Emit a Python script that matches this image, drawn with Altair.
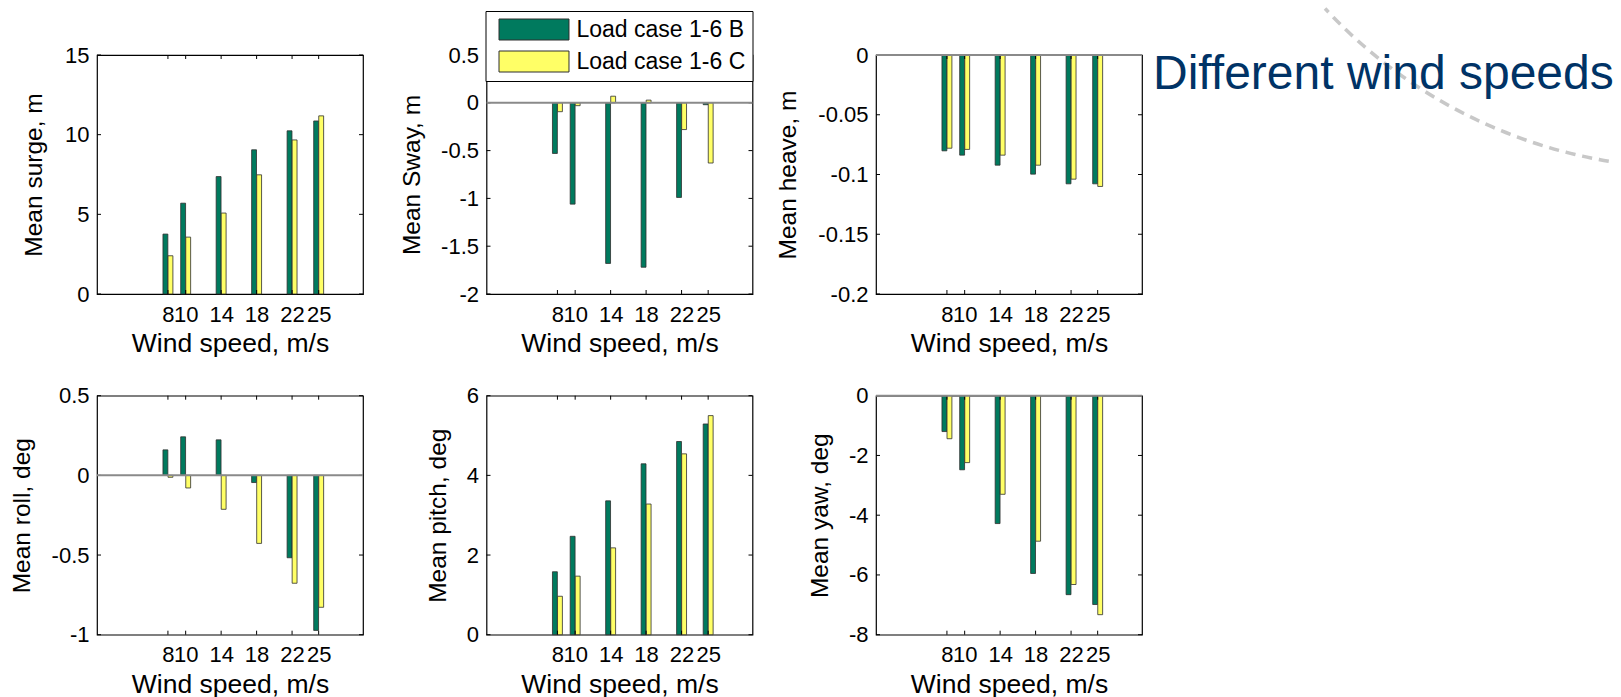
import altair as alt
import pandas as pd

# ---------------- data ----------------
speeds = [8, 10, 14, 18, 22, 25]
series_names = ["Load case 1-6 B", "Load case 1-6 C"]

surge_b = [3.76, 5.70, 7.37, 9.05, 10.24, 10.86]
surge_c = [2.40, 3.57, 5.08, 7.48, 9.67, 11.18]
sway_b = [-0.53, -1.06, -1.68, -1.72, -0.99, -0.02]
sway_c = [-0.093, -0.03, 0.069, 0.028, -0.28, -0.63]
heave_b = [-0.0802, -0.0838, -0.0922, -0.0997, -0.1078, -0.1078]
heave_c = [-0.0780, -0.0790, -0.0838, -0.0922, -0.1039, -0.1100]
roll_b = [0.160, 0.242, 0.223, -0.045, -0.517, -0.973]
roll_c = [-0.012, -0.079, -0.213, -0.427, -0.677, -0.828]
pitch_b = [1.58, 2.47, 3.36, 4.29, 4.85, 5.29]
pitch_c = [0.965, 1.47, 2.18, 3.28, 4.54, 5.50]
yaw_b = [-1.20, -2.48, -4.28, -5.95, -6.66, -6.99]
yaw_c = [-1.44, -2.24, -3.30, -4.87, -6.32, -7.33]

surge_ticks = [0, 5, 10, 15]
sway_ticks = [-2, -1.5, -1, -0.5, 0, 0.5]
heave_ticks = [-0.2, -0.15, -0.1, -0.05, 0]
roll_ticks = [-1, -0.5, 0, 0.5]
pitch_ticks = [0, 2, 4, 6]
yaw_ticks = [-8, -6, -4, -2, 0]
x_domain = [0, 30]

x_title = "Wind speed, m/s"
slide_title = "Different wind speeds"

# ---------------- style ----------------
W, H = 266, 239
GREEN, YELLOW = "#007a5e", "#ffff66"
EDGE = "#2e2e2e"
FONT = "Liberation Sans"
TICK = 4


def panel(b_vals, c_vals, ticks, ytitle, title_x, zero_line=False, legend=None, extras=()):
    df = pd.DataFrame({
        "speed": speeds * 2,
        "series": [series_names[0]] * len(speeds) + [series_names[1]] * len(speeds),
        "value": b_vals + c_vals,
    })
    xscale = alt.Scale(domain=x_domain, nice=False, zero=False)
    yscale = alt.Scale(domain=[ticks[0], ticks[-1]], nice=False, zero=False)
    xaxis = alt.Axis(
        values=speeds, title=x_title, labelExpr="'' + datum.value",
        labelOverlap=False, labelFlush=False, ticks=False, domain=False, grid=False,
        labelFontSize=22, labelPadding=27, labelBaseline="alphabetic",
        titleFontSize=26.5, titleY=57.5, titleBaseline="alphabetic", titleFontWeight="normal")
    yaxis = alt.Axis(
        values=ticks, title=ytitle, labelExpr="'' + datum.value",
        labelOverlap=False, labelFlush=False, ticks=False, domain=False, grid=False,
        labelFontSize=22, labelPadding=8, titleFontSize=24.5, titleFontWeight="normal",
        titleX=title_x, titleY=H / 2, titleAngle=270, titleAlign="center",
        titleBaseline="middle")
    first = series_names[0]
    bars = alt.Chart(df).transform_calculate(
        x0=f"datum.speed + (datum.series == '{first}' ? -0.56 : 0.01)",
        x1=f"datum.speed + (datum.series == '{first}' ? -0.01 : 0.56)",
    ).mark_rect(stroke=EDGE, strokeWidth=0.8).encode(
        x=alt.X("x0:Q", scale=xscale, axis=xaxis),
        x2="x1:Q",
        y=alt.Y("value:Q", scale=yscale, axis=yaxis),
        y2=alt.datum(0),
        color=alt.Color("series:N", scale=alt.Scale(domain=series_names, range=[GREEN, YELLOW]),
                        legend=legend),
    )
    ydf = pd.DataFrame({"tick": ticks})
    xdf = pd.DataFrame({"speed": speeds})
    yl = alt.Chart(ydf).mark_rule(color="black", strokeWidth=1).encode(
        y=alt.Y("tick:Q", scale=yscale, axis=yaxis), x=alt.value(0), x2=alt.value(TICK))
    yr = alt.Chart(ydf).mark_rule(color="black", strokeWidth=1).encode(
        y=alt.Y("tick:Q", scale=yscale, axis=yaxis), x=alt.value(W - TICK), x2=alt.value(W))
    xb = alt.Chart(xdf).mark_rule(color="black", strokeWidth=1).encode(
        x=alt.X("speed:Q", scale=xscale, axis=xaxis), y=alt.value(H), y2=alt.value(H - TICK))
    xt = alt.Chart(xdf).mark_rule(color="black", strokeWidth=1).encode(
        x=alt.X("speed:Q", scale=xscale, axis=xaxis), y=alt.value(0), y2=alt.value(TICK))
    layers = [bars, yl, yr, xb, xt]
    if zero_line:
        zl = alt.Chart(pd.DataFrame({"zero": [0]})).mark_rule(color="#8a8a8a", strokeWidth=2).encode(
            y=alt.Y("zero:Q", scale=yscale, axis=yaxis), x=alt.value(0), x2=alt.value(W))
        layers.append(zl)
    layers.extend(extras)
    return alt.layer(*layers).properties(width=W, height=H)


legend = alt.Legend(
    title=None, orient="none", legendX=-1, legendY=-44, direction="vertical",
    symbolType="M-3.333,-1H3.333V1H-3.333Z", symbolSize=441,
    symbolStrokeColor=EDGE, symbolStrokeWidth=1, symbolOpacity=1,
    symbolOffset=30, labelOffset=31, labelFontSize=23, labelFont=FONT,
    labelColor="black", labelLimit=400, padding=7, rowPadding=7,
    strokeColor="black", fillColor="white", cornerRadius=0,
)

# invisible anchor fixing the top-left corner of the page
anchor = alt.Chart(pd.DataFrame({"a": [0]})).mark_rule(opacity=0, strokeWidth=1).encode(
    x=alt.value(-96.2), x2=alt.value(0), y=alt.value(-52.8))

# slide decorations next to the top-right panel
title_text = alt.Chart(pd.DataFrame({"t": [slide_title]})).mark_text(
    align="left", baseline="alphabetic", fontSize=48, color="#003366", font=FONT
).encode(text="t:N", x=alt.value(277), y=alt.value(34))
arc = alt.Chart(pd.DataFrame({"a": [0]})).mark_arc(
    theta=3.306, theta2=3.965, radius=498, radius2=498,
    stroke="#c8c8c8", strokeWidth=3.5, strokeDash=[10, 7], fillOpacity=0,
).encode(x=alt.value(814.3), y=alt.value(-385))

p1 = panel(surge_b, surge_c, surge_ticks, "Mean surge, m", -63, extras=[anchor])
p2 = panel(sway_b, sway_c, sway_ticks, "Mean Sway, m", -74, zero_line=True, legend=legend)
p3 = panel(heave_b, heave_c, heave_ticks, "Mean heave, m", -88, zero_line=True,
           extras=[arc, title_text])
p4 = panel(roll_b, roll_c, roll_ticks, "Mean roll, deg", -75, zero_line=True)
p5 = panel(pitch_b, pitch_c, pitch_ticks, "Mean pitch, deg", -48)
p6 = panel(yaw_b, yaw_c, yaw_ticks, "Mean yaw, deg", -56, zero_line=True)

chart = alt.concat(
    p1, p2, p3, p4, p5, p6, columns=3, bounds="flush",
    spacing={"row": 101.7, "column": 123.5},
).resolve_scale(color="independent").properties(padding=0).configure(font=FONT).configure_view(
    stroke="black", strokeWidth=1.2
).configure_axis(labelColor="black", titleColor="black", labelFont=FONT, titleFont=FONT)

chart.save("out.html", embed_options={"renderer": "svg", "actions": False})
